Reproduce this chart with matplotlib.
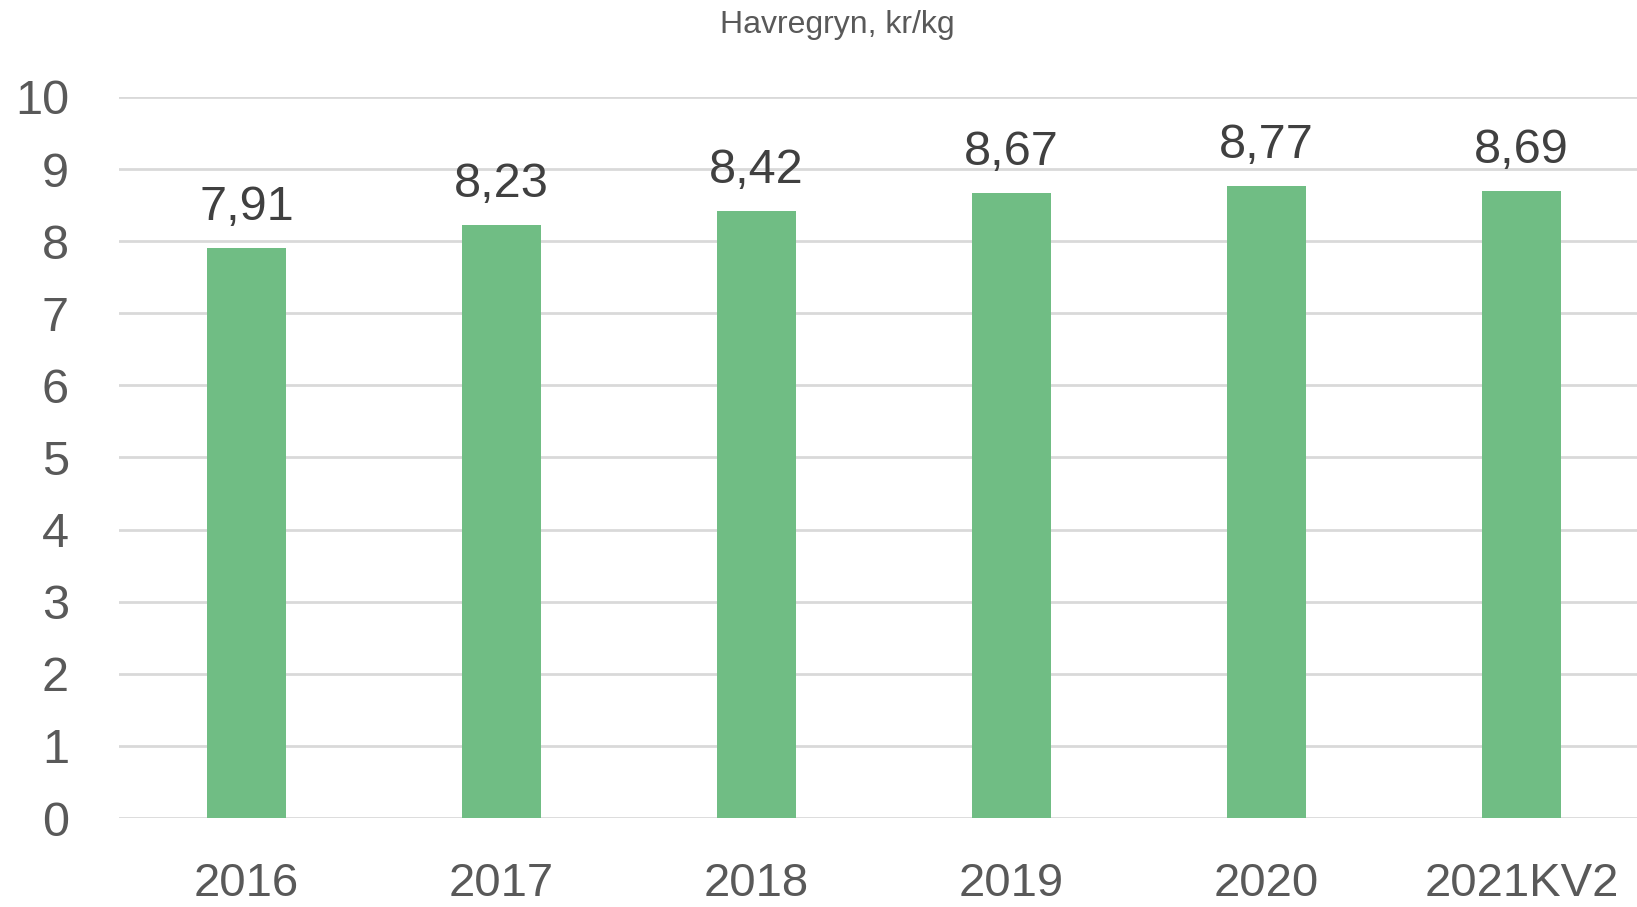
import matplotlib
matplotlib.use("Agg")
import matplotlib.pyplot as plt

categories = ["2016", "2017", "2018", "2019", "2020", "2021KV2"]
values = [7.91, 8.23, 8.42, 8.67, 8.77, 8.69]
labels = ["7,91", "8,23", "8,42", "8,67", "8,77", "8,69"]
yticks = [0, 1, 2, 3, 4, 5, 6, 7, 8, 9, 10]
title = "Havregryn, kr/kg"

W, H = 1637, 907
fig = plt.figure(figsize=(W / 100, H / 100), dpi=100)
plt.rcParams['font.family'] = ['Liberation Sans', 'DejaVu Sans']

ax_left, ax_right = 119, 119 + 1530
ax_top, ax_bottom = 97, 818
ax = fig.add_axes([ax_left / W, (H - ax_bottom) / H, (ax_right - ax_left) / W, (ax_bottom - ax_top) / H])

x = list(range(len(categories)))
bars = ax.bar(x, values, width=0.31, color="#70BD84", zorder=3)
ax.set_xlim(-0.5, len(categories) - 0.5)
ax.set_ylim(0, 10)
ax.set_yticks(yticks)
ax.set_yticklabels([str(t) for t in yticks])
ax.set_xticks(x)
ax.set_xticklabels(categories)
ax.grid(axis="y", color="#D9D9D9", linewidth=2, zorder=0)
for s in ax.spines.values():
    s.set_visible(False)
ax.tick_params(axis="y", length=0, labelsize=35, labelcolor="#595959", pad=36)
ax.tick_params(axis="x", length=0, labelsize=34, labelcolor="#595959", pad=32)

for xi, v, lab in zip(x, values, labels):
    ax.annotate(lab, (xi, v), xytext=(0, 13), textcoords="offset points",
                ha="center", va="bottom", fontsize=35, color="#404040")

fig.text(837 / W, 1 - 25 / H, title, ha="center", va="center", fontsize=23, color="#595959")

fig.savefig("out.png", dpi=100)
